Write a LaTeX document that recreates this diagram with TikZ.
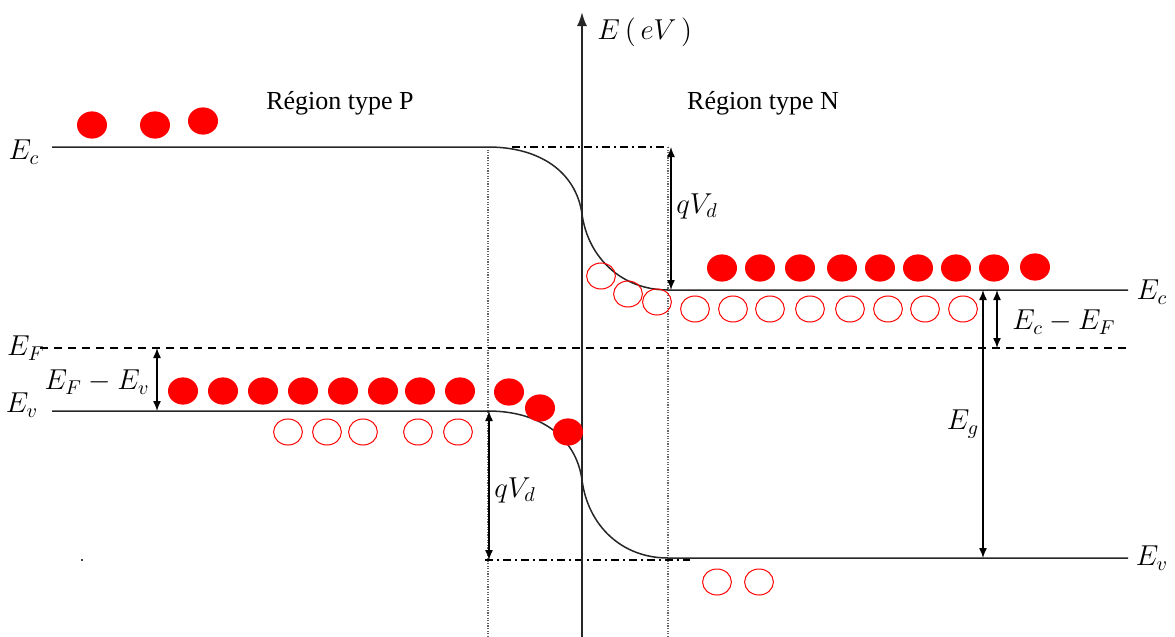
\documentclass[tikz,border=0pt]{standalone}
\usepackage{fontspec}
\setmainfont{Liberation Serif}
\usetikzlibrary{arrows.meta}
\begin{document}
\begin{tikzpicture}[x={(0.5pt,0)},y={(0,-0.5pt)},
  band/.style={line width=0.75pt,black!85},
  dotv/.style={black!60,line width=1.1pt,dash pattern=on 0.6pt off 0.7pt},
  dashdot/.style={line width=0.7pt,dash pattern=on 4pt off 2pt on 1pt off 2pt},
  fermi/.style={line width=0.7pt,dash pattern=on 4pt off 3pt},
  dim/.style={line width=0.7pt,{Latex[length=5pt,width=4pt]}-{Latex[length=5pt,width=4pt]}},
  elec/.style={fill=red},
  hole/.style={draw=red,line width=0.5pt},
  lab/.style={font=\fontsize{14}{16}\selectfont,inner sep=0pt},
  reg/.style={font=\fontsize{13}{15}\selectfont,inner sep=0pt}]
\useasboundingbox (0,0) rectangle (1175,637);
% coordinates
\coordinate (ecL) at (52,147); \coordinate (ecA) at (488,147);
\coordinate (ecB) at (668,290); \coordinate (ecR) at (1128,290);
\coordinate (evL) at (52,411); \coordinate (evA) at (488,411);
\coordinate (evB) at (668,558); \coordinate (evR) at (1128,558);
% vertical dotted lines
\draw[dotv] (488,147) -- (488,637);
\draw[dotv] (668,147) -- (668,637);
% bands
\draw[band] (ecL) -- (ecA) .. controls (540,147) and (576,172) .. (582,214)
  .. controls (588,258) and (622,290) .. (ecB) -- (ecR);
\draw[band] (evL) -- (evA) .. controls (540,411) and (576,437) .. (582,480)
  .. controls (588,526) and (622,558) .. (evB) -- (evR);
% dash-dot references
\draw[dashdot] (512,147) -- (668,147);
\draw[dashdot] (485,560) -- (690,560);
% Fermi level
\draw[fermi] (40,348) -- (1128,348);
% axis
\coordinate (ax0) at (582,637); \coordinate (ax1) at (582,12);
\draw[line width=1pt,black!85,-{Latex[length=7pt,width=5pt]}] (ax0) -- (ax1);
\node[lab,anchor=west] (Elab) at (597,32) {$E\,\big(\,eV\,\big)$};
% region labels
\node[reg] (rp) at (340,103) {Région type P};
\node[reg] (rn) at (763,103) {Région type N};
% level labels
\node[lab] (ecl) at (24,152) {$E_c$};
\node[lab] (efl) at (26,348) {$E_F$};
\node[lab] (evl) at (22,405) {$E_v$};
\node[lab] (ecr) at (1152,292) {$E_c$};
\node[lab] (evr) at (1152,558) {$E_v$};
% dimension arrows
\coordinate (q1a) at (671,147); \coordinate (q1b) at (671,290);
\draw[dim] (q1a) -- (q1b);
\node[lab] (q1) at (697,206) {$qV_d$};
\coordinate (q2a) at (489,411); \coordinate (q2b) at (489,560);
\draw[dim] (q2a) -- (q2b);
\node[lab] (q2) at (515,490) {$qV_d$};
\coordinate (fa) at (157,348); \coordinate (fb) at (157,411);
\draw[dim] (fa) -- (fb);
\node[lab,anchor=east] (fev) at (150,382) {$E_F-E_v$};
\coordinate (ca) at (997,290); \coordinate (cb) at (997,348);
\draw[dim] (ca) -- (cb);
\node[lab] (cef) at (1064,322) {$E_c-E_F$};
\coordinate (ga) at (983,290); \coordinate (gb) at (983,558);
\draw[dim] (ga) -- (gb);
\node[lab] (eg) at (963,424) {$E_g$};
% electrons
\foreach \x/\y in {92/125,155/125,203/121,
  722/268,760/268,800/268,842/268,880/268,918/268,956/268,994/268,1035/267,
  183/391,223/391,263/391,303/391,343/391,383/391,420/391,460/391,
  509/392,540/408,568/432}
  \fill[elec] (\x,\y) ellipse [x radius=7.5pt,y radius=6.8pt];
% holes
\foreach \x/\y in {288/432,327/432,363/432,418/432,458/432,
  695/309,733/309,770/309,810/309,850/309,888/309,925/309,963/309,
  601/276,628/294,657/302,717/582,759/582}
  \draw[hole] (\x,\y) ellipse [x radius=7.2pt,y radius=6.5pt];
\fill (82,560) circle (0.6pt);
\end{tikzpicture}
\end{document}
